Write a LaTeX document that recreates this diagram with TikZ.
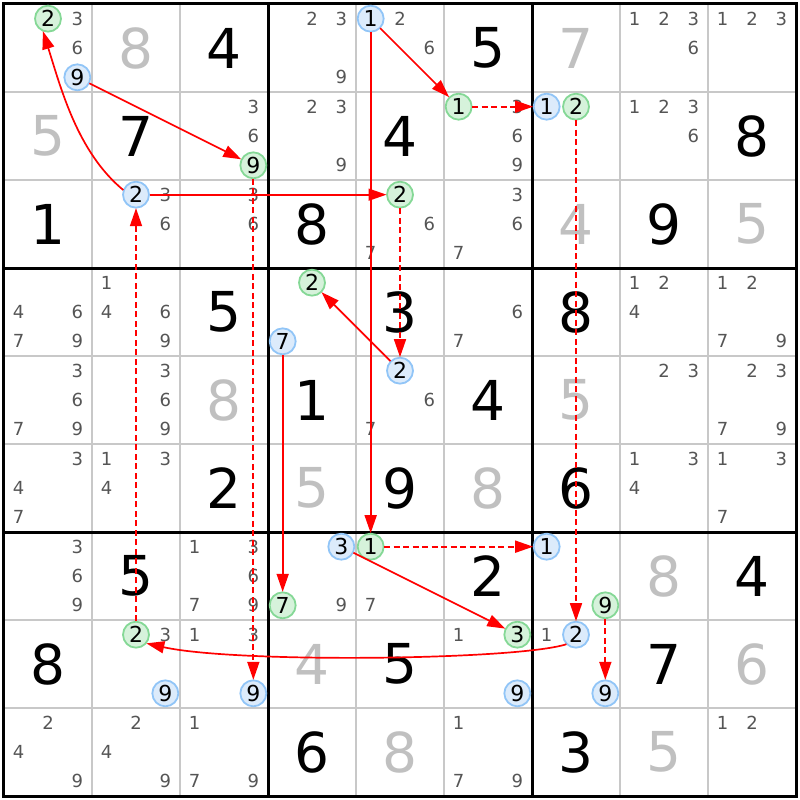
\documentclass[tikz,border=0pt]{standalone}
\usepackage{fontspec}
\setmainfont{DejaVu Sans}
\usetikzlibrary{arrows.meta}
\definecolor{solvedgray}{HTML}{C0C0C0}
\definecolor{candgray}{HTML}{555555}
\definecolor{gridgray}{HTML}{C8C8C8}
\definecolor{blueline}{HTML}{91C5F7}
\definecolor{bluefill}{HTML}{DCEBFB}
\definecolor{greenline}{HTML}{85D896}
\definecolor{greenfill}{HTML}{D6F2DB}
\begin{document}
\begin{tikzpicture}[x=29.3333pt,y=-29.3333pt,
  big/.style={font=\fontsize{55}{55}\selectfont,inner sep=0pt},
  cand/.style={font=\fontsize{18}{18}\selectfont,text=candgray,inner sep=0pt},
  ringed/.style={circle,draw=#1line,fill=#1fill,line width=1.8pt,minimum size=26pt,
    inner sep=0pt,outer sep=0.5pt,font=\fontsize{22}{22}\selectfont},
  solidlink/.style={red,line width=1.7pt,-{Triangle[length=18pt,width=12pt]}},
  dashlink/.style={solidlink,dash pattern=on 6pt off 3.5pt}]
\useasboundingbox ([shift={(-4pt,4pt)}]0,0) rectangle ([shift={(4pt,-4pt)}]27,27);
% Lineas de celdas
\foreach \i in {3,6,12,15,21,24}{
        \draw[gridgray,line width=1.5pt] (\i,0) -- (\i,27);
        \draw[gridgray,line width=1.5pt] (0,\i) -- (27,\i);}
% Lineas de cajas
\foreach \i in {9,18}{
        \draw[line width=3pt] (\i,0) -- (\i,27);
        \draw[line width=3pt] (0,\i) -- (27,\i);}
\draw[line width=3pt] (0,0) rectangle (27,27);
% Numeros dados
\foreach \r/\c/\d in {1/3/4,1/6/5,2/2/7,2/5/4,2/9/8,3/1/1,3/4/8,3/8/9,4/3/5,4/5/3,4/7/8,
        5/4/1,5/6/4,6/3/2,6/5/9,6/7/6,7/2/5,7/6/2,7/9/4,8/1/8,8/5/5,8/8/7,9/4/6,9/7/3}
        \node[big] (g\r\c) at (3*\c-1.5,3*\r-1.5) {\d};
% Numeros resueltos
\foreach \r/\c/\d in {1/2/8,1/7/7,2/1/5,3/7/4,3/9/5,5/3/8,5/7/5,6/4/5,6/6/8,7/8/8,
        8/4/4,8/9/6,9/5/8,9/8/5}
        \node[big,text=solvedgray] (s\r\c) at (3*\c-1.5,3*\r-1.5) {\d};
% Candidatos
\foreach \r/\c/\ds in {1/1/{3,6},1/4/{2,3,9},1/5/{2,6},1/8/{1,2,3,6},1/9/{1,2,3},
        2/3/{3,6},2/4/{2,3,9},2/6/{3,6,9},2/8/{1,2,3,6},
        3/2/{3,6},3/3/{3,6},3/5/{6,7},3/6/{3,6,7},
        4/1/{4,6,7,9},4/2/{1,4,6,9},4/6/{6,7},4/8/{1,2,4},4/9/{1,2,7,9},
        5/1/{3,6,7,9},5/2/{3,6,9},5/5/{6,7},5/8/{2,3},5/9/{2,3,7,9},
        6/1/{3,4,7},6/2/{1,3,4},6/8/{1,3,4},6/9/{1,3,7},
        7/1/{3,6,9},7/3/{1,3,6,7,9},7/4/{9},7/5/{7},
        8/2/{3},8/3/{1,3},8/6/{1},8/7/{1},
        9/1/{2,4,9},9/2/{2,4,9},9/3/{1,7,9},9/6/{1,7,9},9/9/{1,2}}{
        \foreach \d in \ds
                \node[cand] (n\r\c\d) at ({3*\c-3+mod(\d-1,3)+0.5},{3*\r-3+int((\d-1)/3)+0.5}) {\d};}
% Candidatos marcados
\foreach \r/\c/\d/\col in {1/1/2/green,1/1/9/blue,1/5/1/blue,2/3/9/green,2/6/1/green,
        2/7/1/blue,2/7/2/green,3/2/2/blue,3/5/2/green,4/4/2/green,4/4/7/blue,5/5/2/blue,
        7/4/3/blue,7/4/7/green,7/5/1/green,7/7/1/blue,7/7/9/green,8/2/2/green,8/2/9/blue,
        8/3/9/blue,8/6/3/green,8/6/9/blue,8/7/2/blue,8/7/9/blue}
        \node[ringed=\col] (c\r\c\d) at ({3*\c-3+mod(\d-1,3)+0.5},{3*\r-3+int((\d-1)/3)+0.5}) {\d};
% Enlaces fuertes
\foreach \a/\b in {c119/c239,c151/c261,c151/c751,c322/c352,c552/c442,c447/c747,c743/c863}
        \draw[solidlink] (\a) -- (\b);
% Enlaces debiles
\foreach \a/\b in {c261/c271,c352/c552,c751/c771,c272/c872,c822/c322,c239/c839,c779/c879}
        \draw[dashlink] (\a) -- (\b);
% Curvas
\draw[solidlink] (c322.160) .. controls +(-46pt,38pt) and +(18pt,-57pt) .. (c112.-112);
\draw[solidlink] (c872.-135) .. controls +(-50pt,-16pt) and +(90pt,-20pt) .. (c822.-40);
\end{tikzpicture}
\end{document}
